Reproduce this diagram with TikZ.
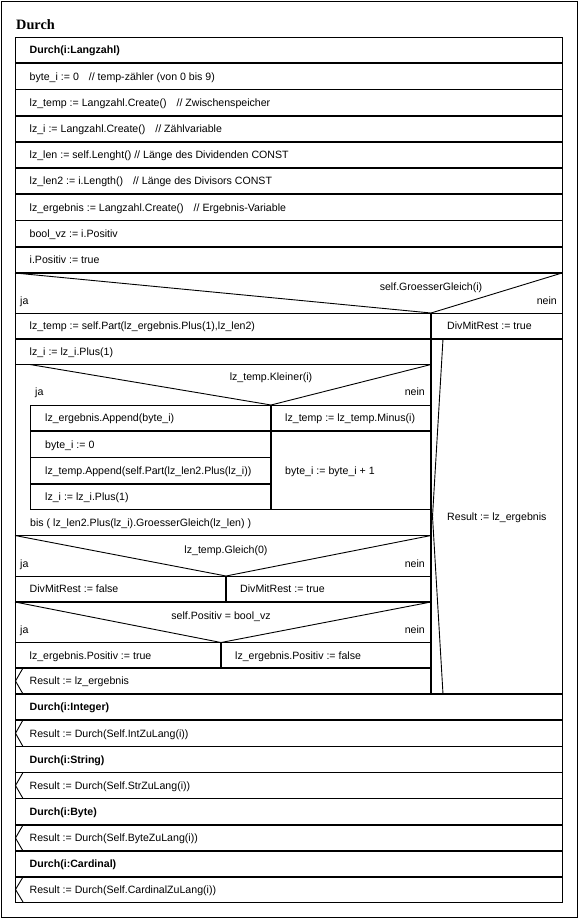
\documentclass[tikz,border=0pt]{standalone}
\usepackage{fontspec}
\setmainfont{Liberation Sans}
\newfontfamily\titlefont{Liberation Serif}
\begin{document}
\begin{tikzpicture}[x=1pt,y=-1pt,
  thinln/.style={line width=0.9pt},
  thickln/.style={line width=1.8pt},
  txt/.style={anchor=base west,inner sep=0pt,font=\fontsize{10.6}{12}\selectfont},
  btxt/.style={anchor=base west,inner sep=0pt,font=\fontsize{10.6}{12}\selectfont\bfseries},
  ctxt/.style={anchor=base,inner sep=0pt,font=\fontsize{10.6}{12}\selectfont},
  rtxt/.style={anchor=base east,inner sep=0pt,font=\fontsize{10.6}{12}\selectfont}]
\useasboundingbox (0,0) rectangle (578,918);
\fill[white] (0,0) rectangle (578,918);
\draw[thinln] (1,1) rectangle (577,917);
\node[anchor=base west,inner sep=0pt,font=\titlefont\fontsize{14.3}{16}\selectfont\bfseries] (title) at (16,29) {Durch};
% inner box
\draw[thinln] (15,37) rectangle (562,902);
\foreach \y in {63.2,89.4,115.6,141.8,168,194.2,220.4,246.6,273}
  \draw[thickln] (15,\y) -- (562,\y);
% top rows
\node[btxt] (r1) at (29.5,53.9) {Durch(i:Langzahl)};
\node[txt] (r2) at (29.5,80.1) {byte\_i := 0\hspace{7pt} // temp-zähler (von 0 bis 9)};
\node[txt] (r3) at (29.5,106.3) {lz\_temp := Langzahl.Create()\hspace{7pt} // Zwischenspeicher};
\node[txt] (r4) at (29.5,132.5) {lz\_i := Langzahl.Create()\hspace{7pt} // Zählvariable};
\node[txt] (r5) at (29.5,158.7) {lz\_len := self.Lenght() // Länge des Dividenden CONST};
\node[txt] (r6) at (29.5,184.9) {lz\_len2 := i.Length()\hspace{7pt} // Länge des Divisors CONST};
\node[txt] (r7) at (29.5,211.1) {lz\_ergebnis := Langzahl.Create()\hspace{7pt} // Ergebnis-Variable};
\node[txt] (r8) at (29.5,237.3) {bool\_vz := i.Positiv};
\node[txt] (r9) at (29.5,263.6) {i.Positiv := true};
% if GroesserGleich
\draw[thinln] (15,273) -- (431,313) -- (562,273);
\draw[thinln] (15,313) -- (562,313);
\draw[thickln] (15,339) -- (562,339);
\draw[thickln] (431,313) -- (431,694);
\node[ctxt] (c1) at (431,290) {self.GroesserGleich(i)};
\node[txt] (c1ja) at (20,304.5) {ja};
\node[rtxt] (c1nein) at (557,304.5) {nein};
\node[txt] (p1) at (29.5,329.8) {lz\_temp := self.Part(lz\_ergebnis.Plus(1),lz\_len2)};
\node[txt] (q1) at (447,329.8) {DivMitRest := true};
\node[txt] (p2) at (29.5,355.5) {lz\_i := lz\_i.Plus(1)};
\draw[thickln] (15,364.5) -- (431,364.5);
% loop body: if Kleiner
\draw[thinln] (30,364.5) -- (271,405) -- (431,364.5);
\draw[thinln] (30,405) -- (431,405);
\draw[thinln] (30,405) -- (30,509.5);
\draw[thickln] (271,405) -- (271,509.5);
\draw[thickln] (30,431) -- (431,431);
\draw[thickln] (30,457.5) -- (271,457.5);
\draw[thickln] (30,484) -- (271,484);
\draw[thickln] (30,509.5) -- (431,509.5);
\node[ctxt] (c2) at (271,380.5) {lz\_temp.Kleiner(i)};
\node[txt] (c2ja) at (35,395.8) {ja};
\node[rtxt] (c2nein) at (425,395.8) {nein};
\node[txt] (k1) at (45,421.8) {lz\_ergebnis.Append(byte\_i)};
\node[txt] (k2) at (45,448) {byte\_i := 0};
\node[txt] (k3) at (45,474.5) {lz\_temp.Append(self.Part(lz\_len2.Plus(lz\_i))};
\node[txt] (k4) at (45,500.5) {lz\_i := lz\_i.Plus(1)};
\node[txt] (m1) at (285,421.8) {lz\_temp := lz\_temp.Minus(i)};
\node[txt] (m2) at (285,474) {byte\_i := byte\_i + 1};
\node[txt] (bis) at (30,526.3) {bis ( lz\_len2.Plus(lz\_i).GroesserGleich(lz\_len) )};
\draw[thickln] (15,535.5) -- (431,535.5);
% if Gleich
\draw[thinln] (15,535.5) -- (226,576) -- (431,535.5);
\draw[thinln] (15,576) -- (431,576);
\draw[thickln] (226,576) -- (226,602);
\draw[thickln] (15,602) -- (431,602);
\node[ctxt] (c3) at (226,553.5) {lz\_temp.Gleich(0)};
\node[txt] (c3ja) at (20,567.3) {ja};
\node[rtxt] (c3nein) at (425,567.3) {nein};
\node[txt] (g1) at (29.5,592.8) {DivMitRest := false};
\node[txt] (g2) at (240,592.8) {DivMitRest := true};
% if Positiv
\draw[thinln] (15,602) -- (221,642.5) -- (431,602);
\draw[thinln] (15,642.5) -- (431,642.5);
\draw[thickln] (221,642.5) -- (221,668);
\draw[thickln] (15,668) -- (431,668);
\node[ctxt] (c4) at (221,619) {self.Positiv = bool\_vz};
\node[txt] (c4ja) at (20,633) {ja};
\node[rtxt] (c4nein) at (425,633) {nein};
\node[txt] (s1) at (29.5,659) {lz\_ergebnis.Positiv := true};
\node[txt] (s2) at (235,659) {lz\_ergebnis.Positiv := false};
% exits
\draw[thinln] (23,668) -- (15.5,681) -- (23,694);
\node[txt] (e1) at (29.5,684.8) {Result := lz\_ergebnis};
\draw[thinln] (443,339) -- (432.5,516.5) -- (443,694);
\node[txt] (e0) at (447,520.3) {Result := lz\_ergebnis};
\draw[thickln] (15,694) -- (562,694);
% further methods
\foreach \y in {720,746.5,772.5,798.5,825,851,877}
  \draw[thickln] (15,\y) -- (562,\y);
\foreach \t/\b in {720/746.5,772.5/798.5,825/851,877/902}
  \draw[thinln] (23,\t) -- (15.5,{(\t+\b)/2}) -- (23,\b);
\node[btxt] (d1) at (29.5,710.8) {Durch(i:Integer)};
\node[txt] (d1r) at (29.5,737) {Result := Durch(Self.IntZuLang(i))};
\node[btxt] (d2) at (29.5,763.3) {Durch(i:String)};
\node[txt] (d2r) at (29.5,789.3) {Result := Durch(Self.StrZuLang(i))};
\node[btxt] (d3) at (29.5,815.5) {Durch(i:Byte)};
\node[txt] (d3r) at (29.5,841.8) {Result := Durch(Self.ByteZuLang(i))};
\node[btxt] (d4) at (29.5,867.8) {Durch(i:Cardinal)};
\node[txt] (d4r) at (29.5,893.3) {Result := Durch(Self.CardinalZuLang(i))};
\end{tikzpicture}
\end{document}
